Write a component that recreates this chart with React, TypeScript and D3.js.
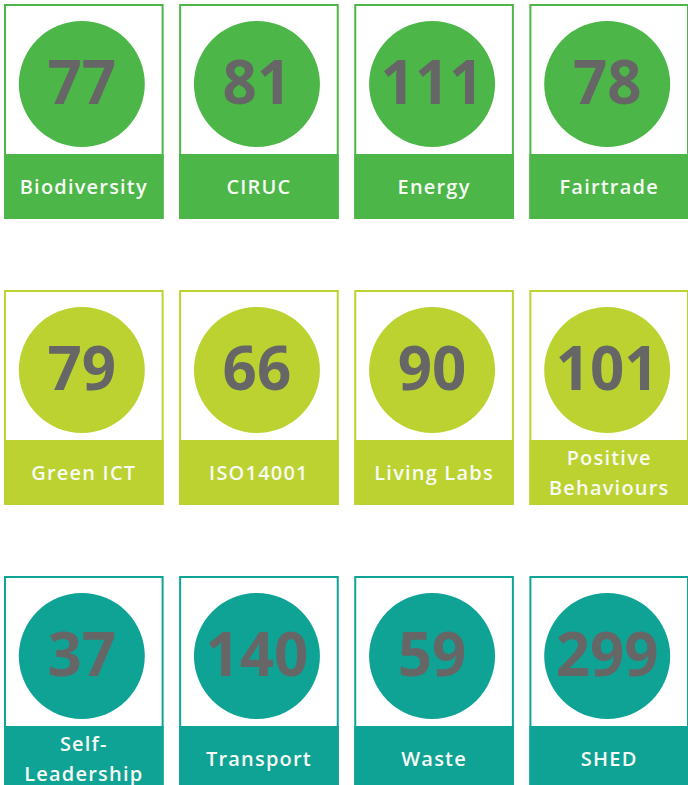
import * as d3 from 'd3';

const labels = [
  'Biodiversity', 'CIRUC', 'Energy', 'Fairtrade',
  'Green ICT', 'ISO14001', 'Living Labs', 'Positive\nBehaviours',
  'Self-\nLeadership', 'Transport', 'Waste', 'SHED',
];
const counts = [77, 81, 111, 78, 79, 66, 90, 101, 37, 140, 59, 299];
const rows = ['top', 'middle', 'bottom'];
const rowColors = ['#4cb748', '#bcd230', '#0fa396'];

const W = 688;
const H = 785;
const COLS = 4;
const CARD_H = 213;
const WHITE_H = 150;
const BAND_H = 63;
const R = 63;

export default function App() {
  const x = d3
    .scaleBand<number>()
    .domain(d3.range(COLS))
    .range([5, 688])
    .paddingInner(0.1);

  const y = d3.scalePoint<string>().domain(rows).range([5, 577]);

  const color = d3.scaleOrdinal<string, string>().domain(rows).range(rowColors);

  const cards = labels.map((label, i) => {
    const row = rows[Math.floor(i / COLS)];
    return {
      label,
      count: counts[i],
      row,
      x0: x(i % COLS) as number,
      y0: y(row) as number,
      fill: color(row),
    };
  });

  const w = x.bandwidth();

  return (
    <svg
      width={W}
      height={H}
      style={{ position: 'absolute', left: 0, top: 0, background: '#fff' }}
    >
      {cards.map((d) => {
        const lines = d.label.split('\n');
        const cx = d.x0 + w / 2 - 2;
        const cy = d.y0 + WHITE_H / 2 + 4;
        const bandMid = d.y0 + WHITE_H + BAND_H / 2;
        return (
          <g key={d.label}>
            <rect
              x={d.x0}
              y={d.y0}
              width={w}
              height={CARD_H}
              fill="#fff"
              stroke={d.fill}
              strokeWidth={2}
            />
            <rect
              x={d.x0}
              y={d.y0 + WHITE_H}
              width={w}
              height={BAND_H}
              fill={d.fill}
              stroke={d.fill}
              strokeWidth={2}
            />
            <circle cx={cx} cy={cy} r={R} fill={d.fill} />
            <text
              x={cx}
              y={cy + 20}
              textAnchor="middle"
              fontFamily="'Open Sans', sans-serif"
              fontWeight={700}
              fontSize={60}
              fill="#666"
            >
              {d.count}
            </text>
            {lines.map((ln, k) => (
              <text
                key={ln}
                x={d.x0 + w / 2}
                y={bandMid + 7 + (k - (lines.length - 1) / 2) * 30}
                textAnchor="middle"
                fontFamily="'Open Sans', sans-serif"
                fontWeight={600}
                fontSize={20}
                letterSpacing={1.2}
                fill="#f7faf5"
              >
                {ln}
              </text>
            ))}
          </g>
        );
      })}
    </svg>
  );
}
